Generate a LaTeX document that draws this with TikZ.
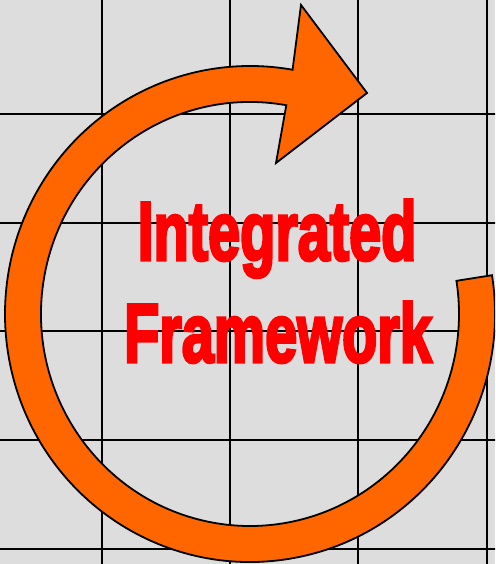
\documentclass[tikz,border=0pt]{standalone}
\usepackage{fontspec}
\setmainfont{Liberation Sans}
\newfontfamily\heavyfont[FakeBold=4]{Liberation Sans Bold}
\usetikzlibrary{calc}
\definecolor{bgc}{HTML}{DDDDDD}
\definecolor{ringc}{HTML}{FF6600}
\definecolor{txtc}{HTML}{FF0000}
\begin{document}
\begin{tikzpicture}[x=1pt,y=-1pt,
  gridline/.style={line width=2.3pt,black},
  ringstyle/.style={fill=ringc,draw=black,line width=1.8pt,line join=miter},
  bigtext/.style={text=txtc,inner sep=0pt,font=\heavyfont\fontsize{83}{83}\selectfont}]
\fill[bgc] (0,0) rectangle (495,564);
\useasboundingbox (0,0) rectangle (495,564);
\clip (0,0) rectangle (495,564);
\foreach \x in {102,230,358,487} \draw[gridline] (\x,-5) -- (\x,570);
\foreach \y in {114,223,331,440,549} \draw[gridline] (-5,\y) -- (500,\y);
\coordinate (c) at (250,314);
\coordinate (tipTop) at (301,5);
\coordinate (tip) at (367,93);
\coordinate (tipBot) at (276,163);
\path[ringstyle] ($(c)+(9:245pt and 248pt)$)
  arc[start angle=9, end angle=-280, x radius=245pt, y radius=248pt]
  -- (tipTop) -- (tip) -- (tipBot)
  -- ($(c)+(80:209pt and 212pt)$)
  arc[start angle=80, end angle=369, x radius=209pt, y radius=212pt]
  -- cycle;
\node[bigtext, anchor=base] (t1) at (277,260) {\scalebox{0.695}[1]{Integrated}};
\node[bigtext, anchor=base] (t2) at (278,362) {\scalebox{0.695}[1]{Framework}};
\end{tikzpicture}
\end{document}
